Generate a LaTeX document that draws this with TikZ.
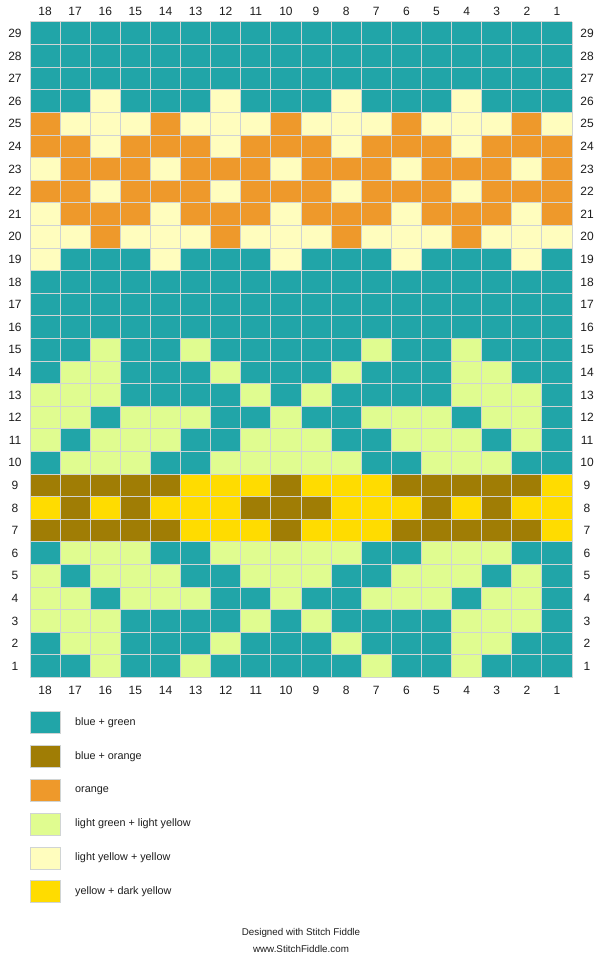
\documentclass[tikz,border=0pt]{standalone}
\usepackage{fontspec}
\setmainfont{Liberation Sans}
\definecolor{cB}{RGB}{33,165,168}
\definecolor{cD}{RGB}{160,125,5}
\definecolor{cO}{RGB}{238,153,43}
\definecolor{cG}{RGB}{224,252,144}
\definecolor{cL}{RGB}{255,253,190}
\definecolor{cY}{RGB}{255,220,0}
\definecolor{gridc}{RGB}{208,212,212}
\definecolor{txt}{RGB}{30,30,30}
\begin{document}
\begin{tikzpicture}[x=1pt,y=-1pt,
  lab/.style={font=\fontsize{12}{14}\selectfont, text=txt, inner sep=0pt},
  legtext/.style={font=\fontsize{10.8}{13}\selectfont, text=txt, anchor=west, inner sep=0pt},
  foot/.style={font=\fontsize{9.8}{12}\selectfont, text=txt, inner sep=0pt},
  gridline/.style={draw=gridc, line width=1pt},
  swatch/.style={draw=gridc, line width=0.8pt}]
\useasboundingbox[fill=white] (0,0) rectangle (602,960);
\def\cw{30.1111}
\def\ch{22.6034}
\foreach \r/\row in {
29/{B,B,B,B,B,B,B,B,B,B,B,B,B,B,B,B,B,B},
28/{B,B,B,B,B,B,B,B,B,B,B,B,B,B,B,B,B,B},
27/{B,B,B,B,B,B,B,B,B,B,B,B,B,B,B,B,B,B},
26/{B,B,L,B,B,B,L,B,B,B,L,B,B,B,L,B,B,B},
25/{O,L,L,L,O,L,L,L,O,L,L,L,O,L,L,L,O,L},
24/{O,O,L,O,O,O,L,O,O,O,L,O,O,O,L,O,O,O},
23/{L,O,O,O,L,O,O,O,L,O,O,O,L,O,O,O,L,O},
22/{O,O,L,O,O,O,L,O,O,O,L,O,O,O,L,O,O,O},
21/{L,O,O,O,L,O,O,O,L,O,O,O,L,O,O,O,L,O},
20/{L,L,O,L,L,L,O,L,L,L,O,L,L,L,O,L,L,L},
19/{L,B,B,B,L,B,B,B,L,B,B,B,L,B,B,B,L,B},
18/{B,B,B,B,B,B,B,B,B,B,B,B,B,B,B,B,B,B},
17/{B,B,B,B,B,B,B,B,B,B,B,B,B,B,B,B,B,B},
16/{B,B,B,B,B,B,B,B,B,B,B,B,B,B,B,B,B,B},
15/{B,B,G,B,B,G,B,B,B,B,B,G,B,B,G,B,B,B},
14/{B,G,G,B,B,B,G,B,B,B,G,B,B,B,G,G,B,B},
13/{G,G,G,B,B,B,B,G,B,G,B,B,B,B,G,G,G,B},
12/{G,G,B,G,G,G,B,B,G,B,B,G,G,G,B,G,G,B},
11/{G,B,G,G,G,B,B,G,G,G,B,B,G,G,G,B,G,B},
10/{B,G,G,G,B,B,G,G,G,G,G,B,B,G,G,G,B,B},
9/{D,D,D,D,D,Y,Y,Y,D,Y,Y,Y,D,D,D,D,D,Y},
8/{Y,D,Y,D,Y,Y,Y,D,D,D,Y,Y,Y,D,Y,D,Y,Y},
7/{D,D,D,D,D,Y,Y,Y,D,Y,Y,Y,D,D,D,D,D,Y},
6/{B,G,G,G,B,B,G,G,G,G,G,B,B,G,G,G,B,B},
5/{G,B,G,G,G,B,B,G,G,G,B,B,G,G,G,B,G,B},
4/{G,G,B,G,G,G,B,B,G,B,B,G,G,G,B,G,G,B},
3/{G,G,G,B,B,B,B,G,B,G,B,B,B,B,G,G,G,B},
2/{B,G,G,B,B,B,G,B,B,B,G,B,B,B,G,G,B,B},
1/{B,B,G,B,B,G,B,B,B,B,B,G,B,B,G,B,B,B}}{
  \foreach \v [count=\i] in \row {
    \fill[c\v] ({30+(\i-1)*\cw},{22+(29-\r)*\ch}) rectangle ++(\cw,\ch);
  }
}
\foreach \k in {0,...,18}
  \draw[gridline] ({30+\k*\cw},22) -- ({30+\k*\cw},677.5);
\foreach \k in {0,...,29}
  \draw[gridline] (30,{22+\k*\ch}) -- (572,{22+\k*\ch});
\foreach \c in {1,...,18} {
  \node[lab] (top\c) at ({30+(18-\c+0.5)*\cw},11.3) {\c};
  \node[lab] (bot\c) at ({30+(18-\c+0.5)*\cw},690.8) {\c};
}
\foreach \r in {1,...,29} {
  \node[lab] (left\r) at (15,{22+(29-\r+0.5)*\ch}) {\r};
  \node[lab] (right\r) at (587,{22+(29-\r+0.5)*\ch}) {\r};
}
\foreach \col/\name [count=\k from 0] in {cB/blue + green, cD/blue + orange, cO/orange, cG/light green + light yellow, cL/light yellow + yellow, cY/yellow + dark yellow} {
  \filldraw[swatch, fill=\col] (30,{711.7+\k*33.8}) rectangle ++(30,22);
  \node[legtext] (leg\k) at (75,{722.7+\k*33.8}) {\name};
}
\node[foot] (foot1) at (301,933.3) {Designed with Stitch Fiddle};
\node[foot] (foot2) at (301,949) {www.StitchFiddle.com};
\end{tikzpicture}
\end{document}
